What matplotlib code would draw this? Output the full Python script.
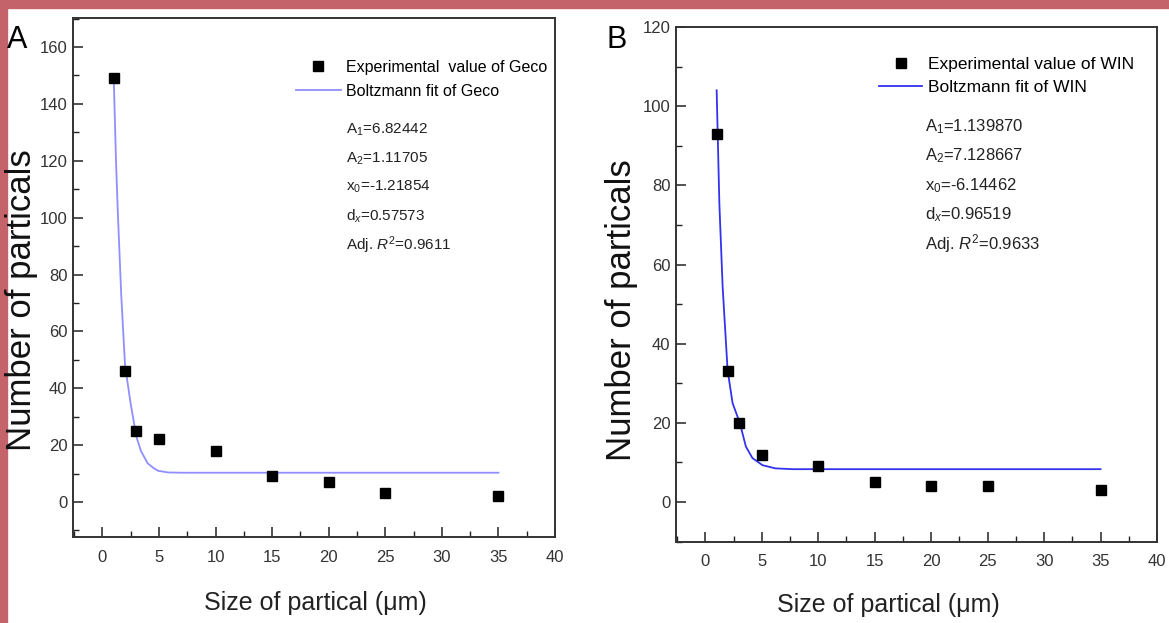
import numpy as np
import matplotlib
matplotlib.use("Agg")
import matplotlib.pyplot as plt
from matplotlib.patches import Rectangle
from matplotlib.ticker import MultipleLocator

W, H = 1169, 623

# données
taille = [1, 2, 3, 5, 10, 15, 20, 25, 35]
geco_exp = [149, 46, 25, 22, 18, 9, 7, 3, 2]
win_exp = [93, 33, 20, 12, 9, 5, 4, 4, 3]

# courbes d'ajustement
geco_fit_x = [1.0, 1.2, 1.36, 1.66, 2.0, 2.5, 3.0, 3.4, 4.0, 4.5, 4.9, 5.8, 7.0, 10, 20, 35]
geco_fit_y = [149, 120, 102, 73, 48, 34.5, 23, 18, 13.6, 12.0, 11.0, 10.4, 10.3, 10.3, 10.3, 10.3]
win_fit_x = [1.0, 1.24, 1.53, 1.97, 2.41, 3.06, 3.59, 4.17, 5.06, 6.2, 7.7, 10, 20, 35]
win_fit_y = [104, 75.4, 54.4, 33.3, 25, 19.9, 14, 11.1, 9.3, 8.5, 8.3, 8.3, 8.3, 8.3]

geco_params = ["A$_1$=6.82442", "A$_2$=1.11705", "x$_0$=-1.21854", "d$_x$=0.57573", "Adj. $R^2$=0.9611"]
win_params = ["A$_1$=1.139870", "A$_2$=7.128667", "x$_0$=-6.14462", "d$_x$=0.96519", "Adj. $R^2$=0.9633"]

police = ["Liberation Sans", "DejaVu Sans"]
plt.rcParams["font.family"] = police
plt.rcParams["mathtext.fontset"] = "custom"
plt.rcParams["mathtext.rm"] = "Liberation Sans"
plt.rcParams["mathtext.it"] = "Liberation Sans:italic"

fig = plt.figure(figsize=(W / 100, H / 100), dpi=100)
fig.patch.set_facecolor("white")

# bordure rouge (haut et gauche)
rouge = "#c4636a"
fig.patches.append(Rectangle((0, 1 - 8 / H), 1, 8 / H, transform=fig.transFigure, color=rouge, zorder=0))
fig.patches.append(Rectangle((0, 0), 7 / W, 1, transform=fig.transFigure, color=rouge, zorder=0))


def px(x, y):
    return x / W, 1 - y / H


def axe(l, t, r, b):
    return fig.add_axes([l / W, 1 - b / H, (r - l) / W, (b - t) / H])


def tracer(ax, exp, fx, fy, couleur, lab_exp, lab_fit, ylim, ymaj, ymin):
    ax.plot(taille, exp, "s", color="black", markersize=7, label=lab_exp, zorder=3)
    ax.plot(fx, fy, "-", color=couleur, lw=1.3, label=lab_fit, zorder=2)
    ax.set_xlim(-2.6, 40)
    ax.set_ylim(*ylim)
    ax.xaxis.set_major_locator(MultipleLocator(5))
    ax.xaxis.set_minor_locator(MultipleLocator(2.5))
    ax.yaxis.set_major_locator(MultipleLocator(ymaj))
    ax.yaxis.set_minor_locator(MultipleLocator(ymin))
    ax.tick_params(which="both", direction="in", top=False, right=False, colors="#222222",
                   labelsize=12, labelcolor="#333333")
    ax.tick_params(which="major", length=7, width=1.1, pad=9)
    ax.tick_params(which="minor", length=4, width=1.0)
    ax.tick_params(axis="y", which="major", pad=4)
    for s in ax.spines.values():
        s.set_linewidth(1.4)
        s.set_color("#333333")


axA = axe(73, 18, 555, 537)
tracer(axA, geco_exp, geco_fit_x, geco_fit_y, "#8f8fff",
       "Experimental  value of Geco", "Boltzmann fit of Geco", (-12.3, 170.2), 20, 10)
axA.legend(loc="upper left", bbox_to_anchor=((296 - 73) / 482, 1 - (60 - 18) / 519), frameon=False,
           fontsize=11.5, handlelength=2.8, handletextpad=0.3, labelspacing=0.55, borderpad=0,
           borderaxespad=0)

axB = axe(676, 27, 1157, 542)
tracer(axB, win_exp, win_fit_x, win_fit_y, "#3333ee",
       "Experimental value of WIN", "Boltzmann fit of WIN", (-10.1, 120), 20, 10)
axB.legend(loc="upper left", bbox_to_anchor=((879 - 676) / 481, 1 - (57 - 27) / 515), frameon=False,
           fontsize=12.5, handlelength=2.5, handletextpad=0.3, labelspacing=0.45, borderpad=0,
           borderaxespad=0)

ys_A = [130, 159, 187, 216, 245]
ys_B = [127, 156, 186, 215, 244]
for t, y in zip(geco_params, ys_A):
    fig.text(*px(346, y), t, fontsize=11, va="center", ha="left", color="#222222")
for t, y in zip(win_params, ys_B):
    fig.text(*px(925, y), t, fontsize=12, va="center", ha="left", color="#222222")

# étiquettes des axes
fig.text(*px(315, 603), "Size of partical (\u03bcm)", fontsize=18, ha="center", va="center", color="#222222")
fig.text(*px(888, 605), "Size of partical (\u03bcm)", fontsize=18, ha="center", va="center", color="#222222")
fig.text(*px(22, 300), "Number of particals", fontsize=25, rotation=90, ha="center", va="center",
         color="#111111")
fig.text(*px(622, 310), "Number of particals", fontsize=25, rotation=90, ha="center", va="center",
         color="#111111")

fig.text(*px(17, 40), "A", fontsize=22, ha="center", va="center")
fig.text(*px(617, 40), "B", fontsize=22, ha="center", va="center")

fig.savefig("out.png", dpi=100, facecolor="white")
